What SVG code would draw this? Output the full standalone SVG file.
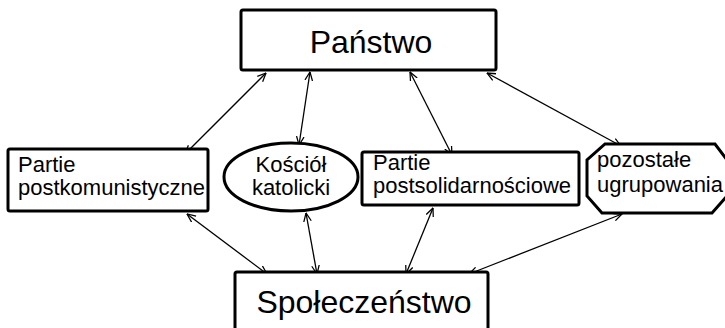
<svg xmlns="http://www.w3.org/2000/svg" width="725" height="328" viewBox="0 0 725 328">
  <defs>
    <marker id="open-arrow" viewBox="0 0 10 10" refX="9.5" refY="5" markerWidth="9" markerHeight="9" markerUnits="userSpaceOnUse" orient="auto-start-reverse">
      <path d="M0,0.8 L9.5,5 L0,9.2" fill="none" stroke="#000" stroke-width="1.4"/>
    </marker>
    <style>
      .node { fill: #fff; stroke: #000; stroke-width: 3; }
      .link { fill: none; stroke: #000; stroke-width: 1.3; marker-start: url(#open-arrow); marker-end: url(#open-arrow); }
      .big { font-family: "Liberation Sans", Arial, sans-serif; font-size: 32px; fill: #000; text-anchor: middle; }
      .lbl { font-family: "Liberation Sans", Arial, sans-serif; font-size: 22px; fill: #000; }
      .mid { text-anchor: middle; }
    </style>
  </defs>
  <rect width="725" height="328" fill="#fff"/>

  <g id="connectors">
    <line class="link" x1="266" y1="73" x2="185" y2="154"/>
    <line class="link" x1="310" y1="72" x2="299" y2="145"/>
    <line class="link" x1="410" y1="72" x2="452" y2="155"/>
    <line class="link" x1="487" y1="73" x2="621" y2="146"/>
    <line class="link" x1="187" y1="214" x2="267" y2="274"/>
    <line class="link" x1="306" y1="213" x2="317" y2="274"/>
    <line class="link" x1="433" y1="208" x2="406" y2="274"/>
    <line class="link" x1="622" y1="214" x2="469" y2="274"/>
  </g>

  <g id="panstwo">
    <rect class="node" x="241" y="10" width="255" height="60" rx="2"/>
    <text class="big" x="371" y="53">Państwo</text>
  </g>

  <g id="partie-postkomunistyczne">
    <rect class="node" x="8" y="149" width="200" height="62" rx="2"/>
    <text class="lbl" x="18" y="172">Partie</text>
    <text class="lbl" x="18" y="195">postkomunistyczne</text>
  </g>

  <g id="kosciol-katolicki">
    <ellipse class="node" cx="291" cy="177" rx="67" ry="34"/>
    <text class="lbl mid" x="291" y="172">Kościół</text>
    <text class="lbl mid" x="291" y="195">katolicki</text>
  </g>

  <g id="partie-postsolidarnosciowe">
    <rect class="node" x="362" y="152" width="217" height="53" rx="2"/>
    <text class="lbl" x="373" y="170">Partie</text>
    <text class="lbl" x="373" y="193">postsolidarnościowe</text>
  </g>

  <g id="pozostale-ugrupowania">
    <polygon class="node" points="605,144 715,144 727,160 727,196 712,213 602,213 587,196 587,160"/>
    <text class="lbl" x="597" y="167">pozostałe</text>
    <text class="lbl" x="597" y="192">ugrupowania</text>
  </g>

  <g id="spoleczenstwo">
    <rect class="node" x="235" y="272" width="253" height="70" rx="2"/>
    <text class="big" x="364" y="313">Społeczeństwo</text>
  </g>
</svg>
